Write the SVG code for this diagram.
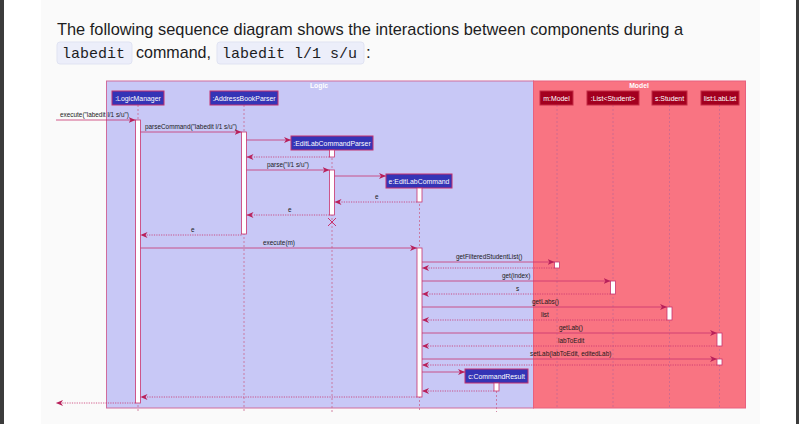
<svg xmlns="http://www.w3.org/2000/svg" width="799" height="424" viewBox="0 0 799 424">
<defs>
<style>
.hd{font-family:"Liberation Sans",Arial,sans-serif;font-size:17px;fill:#1d1d1f}
.code{font-family:"Liberation Mono","DejaVu Sans Mono",monospace;font-size:15px;fill:#1d1d1f}
.cb{fill:#eceefa;stroke:#e0e3f2;stroke-width:1}
.pb{fill:#3434b6;stroke:#c3306f;stroke-width:1}
.pm{fill:#a3001f;stroke:#c42a45;stroke-width:1}
.pt{font-family:"Liberation Sans",Arial,sans-serif;font-size:6.9px;fill:#ffffff;text-anchor:middle}
.ll{stroke:#c86890;stroke-width:0.8;stroke-dasharray:2,2;fill:none}
.act{fill:#ffffff;stroke:#c8346e;stroke-width:0.8}
.msg{stroke:#c8346e;stroke-width:0.8;fill:none;marker-end:url(#ah)}
.ret{stroke:#c8346e;stroke-width:0.8;stroke-dasharray:1.2,1.2;fill:none;marker-end:url(#ah)}
.ml{font-family:"Liberation Sans",Arial,sans-serif;font-size:6.4px;fill:#1a1a1a}
.gt{font-family:"Liberation Sans",Arial,sans-serif;font-size:6.8px;font-weight:bold;fill:#ffffff;text-anchor:middle}
</style>
<marker id="ah" markerUnits="userSpaceOnUse" markerWidth="8" markerHeight="7" refX="7" refY="3" orient="auto">
<polygon points="0,0 7,3 0,6 2,3" fill="#b8205a"/>
</marker>
</defs>
<rect x="0" y="0" width="799" height="424" fill="#ffffff"/>
<rect x="41" y="0" width="719" height="424" fill="#fafafa"/>
<rect x="0" y="0" width="4" height="424" fill="#3c3c3c"/>
<rect x="796" y="0" width="3" height="424" fill="#3c3c3c"/>

<g id="heading">
<text class="hd" x="57" y="35" textLength="626" lengthAdjust="spacingAndGlyphs">The following sequence diagram shows the interactions between components during a</text>
<rect class="cb" x="57" y="42" width="75" height="22" rx="3"/>
<text class="code" x="62" y="58">labedit</text>
<text class="hd" x="136" y="58" textLength="75" lengthAdjust="spacingAndGlyphs">command,</text>
<rect class="cb" x="217" y="42" width="147" height="22" rx="3"/>
<text class="code" x="222" y="58">labedit l/1 s/u</text>
<text class="hd" x="366" y="58">:</text>
</g>

<g id="logic-box">
<rect x="106.5" y="81" width="427" height="327" fill="#c8c8f6" stroke="#d06c9c" stroke-width="1"/>
<text class="gt" x="319" y="88">Logic</text>
</g>
<g id="model-box">
<rect x="533.5" y="81" width="212" height="327" fill="#f97482" stroke="#e8607e" stroke-width="1"/>
<text class="gt" x="639" y="88">Model</text>
</g>

<g id="lifelines">
<line class="ll" x1="138" y1="105" x2="138" y2="412"/>
<line class="ll" x1="244" y1="105" x2="244" y2="412"/>
<line class="ll" x1="332" y1="150" x2="332" y2="412"/>
<line class="ll" x1="419.5" y1="188" x2="419.5" y2="412"/>
<line class="ll" x1="557" y1="105" x2="557" y2="408"/>
<line class="ll" x1="613" y1="105" x2="613" y2="408"/>
<line class="ll" x1="669.5" y1="105" x2="669.5" y2="408"/>
<line class="ll" x1="719.5" y1="105" x2="719.5" y2="408"/>
<line class="ll" x1="496.5" y1="383" x2="496.5" y2="412"/>
</g>

<g id="LogicManager">
<rect class="pb" x="112" y="91" width="52" height="14"/>
<text class="pt" x="138" y="100.5">:LogicManager</text>
<rect class="act" x="135.5" y="120" width="5" height="283"/>
</g>
<g id="AddressBookParser">
<rect class="pb" x="210" y="91" width="68" height="14"/>
<text class="pt" x="244" y="100.5">:AddressBookParser</text>
<rect class="act" x="241.5" y="132" width="5" height="102"/>
</g>
<g id="EditLabCommandParser">
<rect class="pb" x="291" y="136" width="82" height="14"/>
<text class="pt" x="332" y="145.5">:EditLabCommandParser</text>
<rect class="act" x="329.5" y="150" width="5" height="7"/>
<rect class="act" x="329.5" y="170" width="5" height="45"/>
<path d="M328,218 L336,226 M336,218 L328,226" stroke="#c8346e" stroke-width="1" fill="none"/>
</g>
<g id="EditLabCommand">
<rect class="pb" x="386" y="174" width="66" height="14"/>
<text class="pt" x="419" y="183.5">e:EditLabCommand</text>
<rect class="act" x="417" y="188" width="5" height="14"/>
<rect class="act" x="417" y="248" width="5" height="149"/>
</g>
<g id="Model">
<rect class="pm" x="540" y="91" width="33" height="14"/>
<text class="pt" x="556.5" y="100.5">m:Model</text>
<rect class="act" x="554.5" y="262" width="5" height="6"/>
</g>
<g id="ListStudent">
<rect class="pm" x="587" y="91" width="52" height="14"/>
<text class="pt" x="613" y="100.5">:List&lt;Student&gt;</text>
<rect class="act" x="610.5" y="281" width="5" height="13"/>
</g>
<g id="Student">
<rect class="pm" x="652" y="91" width="35" height="14"/>
<text class="pt" x="669.5" y="100.5">s:Student</text>
<rect class="act" x="667" y="307" width="5" height="13"/>
</g>
<g id="LabList">
<rect class="pm" x="701" y="91" width="38" height="14"/>
<text class="pt" x="720" y="100.5">list:LabList</text>
<rect class="act" x="717" y="333" width="5" height="13"/>
<rect class="act" x="717" y="359" width="5" height="6"/>
</g>
<g id="CommandResult">
<rect class="pb" x="465" y="369" width="63" height="14"/>
<text class="pt" x="496.5" y="378.5">c:CommandResult</text>
<rect class="act" x="494" y="383" width="5" height="8"/>
</g>

<g id="connectors">
<line class="msg" x1="56" y1="120" x2="135.5" y2="120"/>
<text class="ml" x="60" y="117">execute("labedit l/1 s/u")</text>
<line class="msg" x1="140.5" y1="132" x2="241.5" y2="132"/>
<text class="ml" x="145" y="129">parseCommand("labedit l/1 s/u")</text>
<line class="msg" x1="246.5" y1="140" x2="291" y2="140"/>
<line class="ret" x1="329.5" y1="157" x2="246.5" y2="157"/>
<line class="msg" x1="246.5" y1="170" x2="329.5" y2="170"/>
<text class="ml" x="267" y="167">parse("l/1 s/u")</text>
<line class="msg" x1="334.5" y1="176" x2="386" y2="176"/>
<line class="ret" x1="417" y1="202" x2="334.5" y2="202"/>
<text class="ml" x="375" y="199">e</text>
<line class="ret" x1="329.5" y1="215" x2="246.5" y2="215"/>
<text class="ml" x="288" y="212">e</text>
<line class="ret" x1="241.5" y1="235" x2="140.5" y2="235"/>
<text class="ml" x="191" y="232">e</text>
<line class="msg" x1="140.5" y1="248" x2="417" y2="248"/>
<text class="ml" x="263" y="245">execute(m)</text>
<line class="msg" x1="422" y1="262" x2="554.5" y2="262"/>
<text class="ml" x="456" y="259">getFilteredStudentList()</text>
<line class="ret" x1="554.5" y1="268" x2="422" y2="268"/>
<line class="msg" x1="422" y1="281" x2="610.5" y2="281"/>
<text class="ml" x="502" y="278">get(index)</text>
<line class="ret" x1="610.5" y1="294" x2="422" y2="294"/>
<text class="ml" x="516" y="291">s</text>
<line class="msg" x1="422" y1="307" x2="667" y2="307"/>
<text class="ml" x="532" y="304">getLabs()</text>
<line class="ret" x1="667" y1="320" x2="422" y2="320"/>
<text class="ml" x="541" y="317">list</text>
<line class="msg" x1="422" y1="333" x2="717" y2="333"/>
<text class="ml" x="559" y="330">getLab()</text>
<line class="ret" x1="717" y1="346" x2="422" y2="346"/>
<text class="ml" x="558" y="343">labToEdit</text>
<line class="msg" x1="422" y1="359" x2="717" y2="359"/>
<text class="ml" x="530" y="356">setLab(labToEdit, editedLab)</text>
<line class="ret" x1="717" y1="365" x2="422" y2="365"/>
<line class="msg" x1="422" y1="372" x2="465" y2="372"/>
<line class="ret" x1="494" y1="391" x2="422" y2="391"/>
<line class="ret" x1="417" y1="397" x2="140.5" y2="397"/>
<line class="ret" x1="135.5" y1="403" x2="56" y2="403"/>
</g>
</svg>
